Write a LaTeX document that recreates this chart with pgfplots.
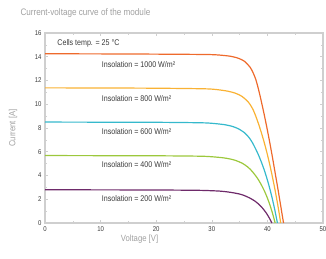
\documentclass[border=0pt]{standalone}
\usepackage{fontspec}
\setmainfont{Liberation Sans}[FakeStretch=0.86]
\usepackage{pgfplots}
\pgfplotsset{compat=1.18}
\definecolor{c1000}{HTML}{EE6A2C}
\definecolor{c800}{HTML}{F9B234}
\definecolor{c600}{HTML}{35B9CC}
\definecolor{c400}{HTML}{9CC83C}
\definecolor{c200}{HTML}{6E2A6A}
\definecolor{framec}{HTML}{CFCFCF}
\definecolor{lab}{HTML}{A0A0A0}
\definecolor{txt}{HTML}{3A3A3A}
\begin{document}
\begin{tikzpicture}
\useasboundingbox (0,0) rectangle (326bp,259bp);
\node[anchor=west,text=lab,font=\fontsize{9.5}{10}\selectfont] at (17bp,246bp) {Current-voltage curve of the module};
\begin{axis}[
  at={(45bp,36bp)}, anchor=south west,
  width=278bp, height=190bp, scale only axis,
  xmin=0, xmax=50, ymin=0, ymax=16,
  xtick={0,10,20,30,40,50}, ytick={0,2,4,6,8,10,12,14,16},
  minor xtick={5,15,25,35,45}, minor ytick={1,3,5,7,9,11,13,15},
  tick align=inside, major tick length=3bp, minor tick length=2bp,
  tick style={framec, line width=0.6pt},
  axis line style={framec, line width=1.3pt},
  /pgf/number format/assume math mode=true,
  tick label style={text=txt, font=\fontsize{7}{8}\selectfont},
  xlabel={Voltage [V]}, ylabel={Current [A]},
  label style={text=lab, font=\fontsize{9}{10}\selectfont},
  xlabel style={at={(axis description cs:0.34,0)}, anchor=north, yshift=-8bp},
  ylabel style={at={(axis description cs:-0.115,0.5)}, anchor=center},
  clip=false,
  every axis plot/.append style={line width=1.2pt, smooth, tension=0.4, no marks},
]
\addplot[c1000] coordinates {
(0,14.25)(10,14.24)(20,14.22)(29.9,14.18)(33.4,14.04)(34.9,13.85)(35.9,13.61)(36.9,13.11)(37.4,12.68)(37.9,12.11)(38.4,11.26)(38.9,10.26)(39.4,9.19)(39.9,8.05)(40.4,6.84)(40.9,5.56)(41.4,4.20)(41.9,2.85)(42.4,1.43)(42.9,0)};
\addplot[c800] coordinates {
(0,11.38)(10,11.37)(20,11.35)(29.4,11.29)(32.9,11.10)(34.4,10.90)(35.4,10.67)(36.4,10.27)(36.9,9.97)(37.4,9.57)(37.9,9.01)(38.4,8.35)(38.9,7.63)(39.4,6.83)(39.9,5.95)(40.4,4.97)(40.9,3.89)(41.4,2.72)(41.9,1.43)(42.4,0)};
\addplot[c600] coordinates {
(0,8.50)(10,8.49)(20,8.48)(28.8,8.43)(32.3,8.28)(33.8,8.12)(34.8,7.93)(35.8,7.63)(36.3,7.41)(36.8,7.13)(37.3,6.77)(37.8,6.32)(38.3,5.83)(38.8,5.27)(39.3,4.64)(39.8,3.93)(40.3,3.12)(40.8,2.21)(41.3,1.17)(41.8,0)};
\addplot[c400] coordinates {
(0,5.68)(10,5.67)(20,5.66)(28.4,5.62)(31.9,5.50)(33.4,5.38)(34.4,5.25)(35.4,5.05)(35.9,4.91)(36.4,4.74)(36.9,4.53)(37.4,4.27)(37.9,3.97)(38.4,3.63)(38.9,3.22)(39.4,2.76)(39.9,2.22)(40.4,1.59)(40.9,0.85)(41.4,0)};
\addplot[c200] coordinates {
(0,2.80)(10,2.79)(20,2.78)(27.8,2.75)(31.3,2.69)(32.8,2.62)(33.8,2.55)(34.8,2.46)(35.3,2.40)(35.8,2.32)(36.3,2.22)(36.8,2.11)(37.3,1.98)(37.8,1.83)(38.3,1.64)(38.8,1.42)(39.3,1.15)(39.8,0.84)(40.3,0.46)(40.8,0)};
\begin{scope}[every node/.style={anchor=west, text=txt, font=\fontsize{8.3}{9}\selectfont}]
\node at (axis cs:1.6,15.1) {Cells temp. = 25 °C};
\node at (axis cs:9.6,13.35) {Insolation = 1000 W/m²};
\node at (axis cs:9.6,10.5) {Insolation = 800 W/m²};
\node at (axis cs:9.6,7.7) {Insolation = 600 W/m²};
\node at (axis cs:9.6,4.9) {Insolation = 400 W/m²};
\node at (axis cs:9.6,2.05) {Insolation = 200 W/m²};
\end{scope}
\end{axis}
\end{tikzpicture}
\end{document}
